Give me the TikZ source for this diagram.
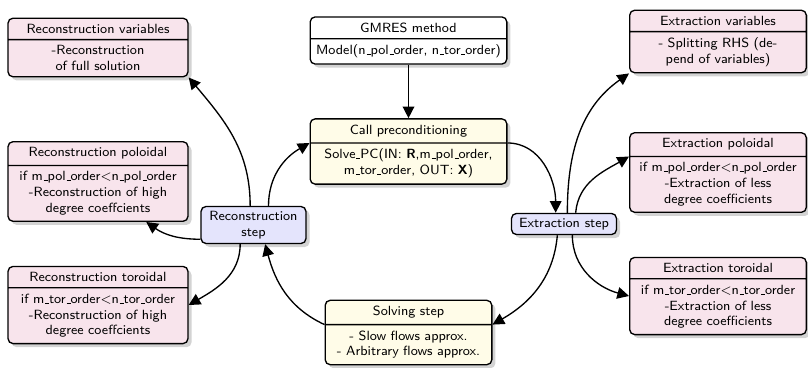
\documentclass[tikz,border=0pt]{standalone}
\usepackage{tikz}
\usetikzlibrary{shapes.multipart,shadows,arrows.meta}
\definecolor{pinkfill}{RGB}{248,228,236}
\definecolor{yellowfill}{RGB}{255,252,232}
\definecolor{bluefill}{RGB}{228,228,252}
\newcommand{\us}{\leavevmode\kern.06em\vbox{\hrule width.3em}}

\begin{document}
\begin{tikzpicture}[x=0.6pt,y=0.6pt,
  font=\sffamily\footnotesize,
  statebox/.style={rectangle split, rectangle split parts=2, draw, thick,
    rounded corners=3pt, inner xsep=2.5pt, inner ysep=3.2pt, align=center,
    text width=103pt, drop shadow={opacity=0.35}},
  stepbox/.style={rectangle, draw, thick, rounded corners=3pt, fill=bluefill,
    align=center, minimum width=63pt, inner sep=2.8pt, drop shadow={opacity=0.35}},
  arrow/.style={-{Triangle[length=7pt,width=7pt]}, thick}]
  \useasboundingbox (0,0) rectangle (808,-367);

  % middle column
  \node[statebox, fill=white, text width=113pt] (gmres) at (408.5,-40.5)
    {GMRES method \nodepart{two} Model(n\us pol\us order, n\us tor\us order)};
  \node[statebox, fill=yellowfill, text width=113pt] (callpc) at (408.5,-151.5)
    {Call preconditioning \nodepart{two} Solve\us PC(IN: \textbf{R},m\us pol\us order,\\m\us tor\us order, OUT: \textbf{X})};
  \node[statebox, fill=yellowfill, text width=95pt] (solving) at (408.5,-332.5)
    {Solving step \nodepart{two} - Slow flows approx.\\- Arbitrary flows approx.};

  % steps
  \node[stepbox] (recstep) at (253.5,-225) {Reconstruction\\step};
  \node[stepbox] (extstep) at (564,-224) {Extraction step};

  % left column
  \node[statebox, fill=pinkfill] (recvar) at (98,-47.5)
    {Reconstruction variables \nodepart{two} -Reconstruction\\of full solution};
  \node[statebox, fill=pinkfill] (recpol) at (98,-181.5)
    {Reconstruction poloidal \nodepart{two} if m\us pol\us order$<$n\us pol\us order\\-Reconstruction of high\\degree coeffcients};
  \node[statebox, fill=pinkfill] (rector) at (98,-305)
    {Reconstruction toroidal \nodepart{two} if m\us tor\us order$<$n\us tor\us order\\-Reconstruction of high\\degree coeffcients};

  % right column
  \node[statebox, fill=pinkfill, text width=101pt] (extvar) at (718,-41.5)
    {Extraction variables \nodepart{two} - Splitting RHS (de-\\pend of variables)};
  \node[statebox, fill=pinkfill, text width=101pt] (extpol) at (718,-172.5)
    {Extraction poloidal \nodepart{two} if m\us pol\us order$<$n\us pol\us order\\-Extraction of less\\degree coefficients};
  \node[statebox, fill=pinkfill, text width=101pt] (exttor) at (718,-296)
    {Extraction toroidal \nodepart{two} if m\us tor\us order$<$n\us tor\us order\\-Extraction of less\\degree coefficients};

  % connectors
  \draw[arrow] (gmres) -- (callpc);
  \draw[arrow] (callpc.text split east) to[out=0,in=90] ([xshift=-5pt]extstep.north);
  \draw[arrow] ([xshift=2pt]extstep.north) to[out=90,in=215] (extvar.south west);
  \draw[arrow] ([xshift=7pt]extstep.north) to[out=85,in=210] (extpol.text split west);
  \draw[arrow] ([xshift=5pt]extstep.south) to[out=-90,in=165] (exttor.west);
  \draw[arrow] ([xshift=-4pt]extstep.south) to[out=-95,in=30] (solving.text split east);
  \draw[arrow] (solving.text split west) to[out=155,in=-75] ([xshift=7pt]recstep.south);
  \draw[arrow] ([xshift=-8pt]recstep.south) to[out=-90,in=30] (rector.east);
  \draw[arrow] (recstep.195) to[out=180,in=-35] (recpol.-40);
  \draw[arrow] ([xshift=-2pt]recstep.north) to[out=90,in=-50] (recvar.south east);
  \draw[arrow] ([xshift=9pt]recstep.north) to[out=90,in=210] (callpc.text split west);
\end{tikzpicture}
\end{document}
